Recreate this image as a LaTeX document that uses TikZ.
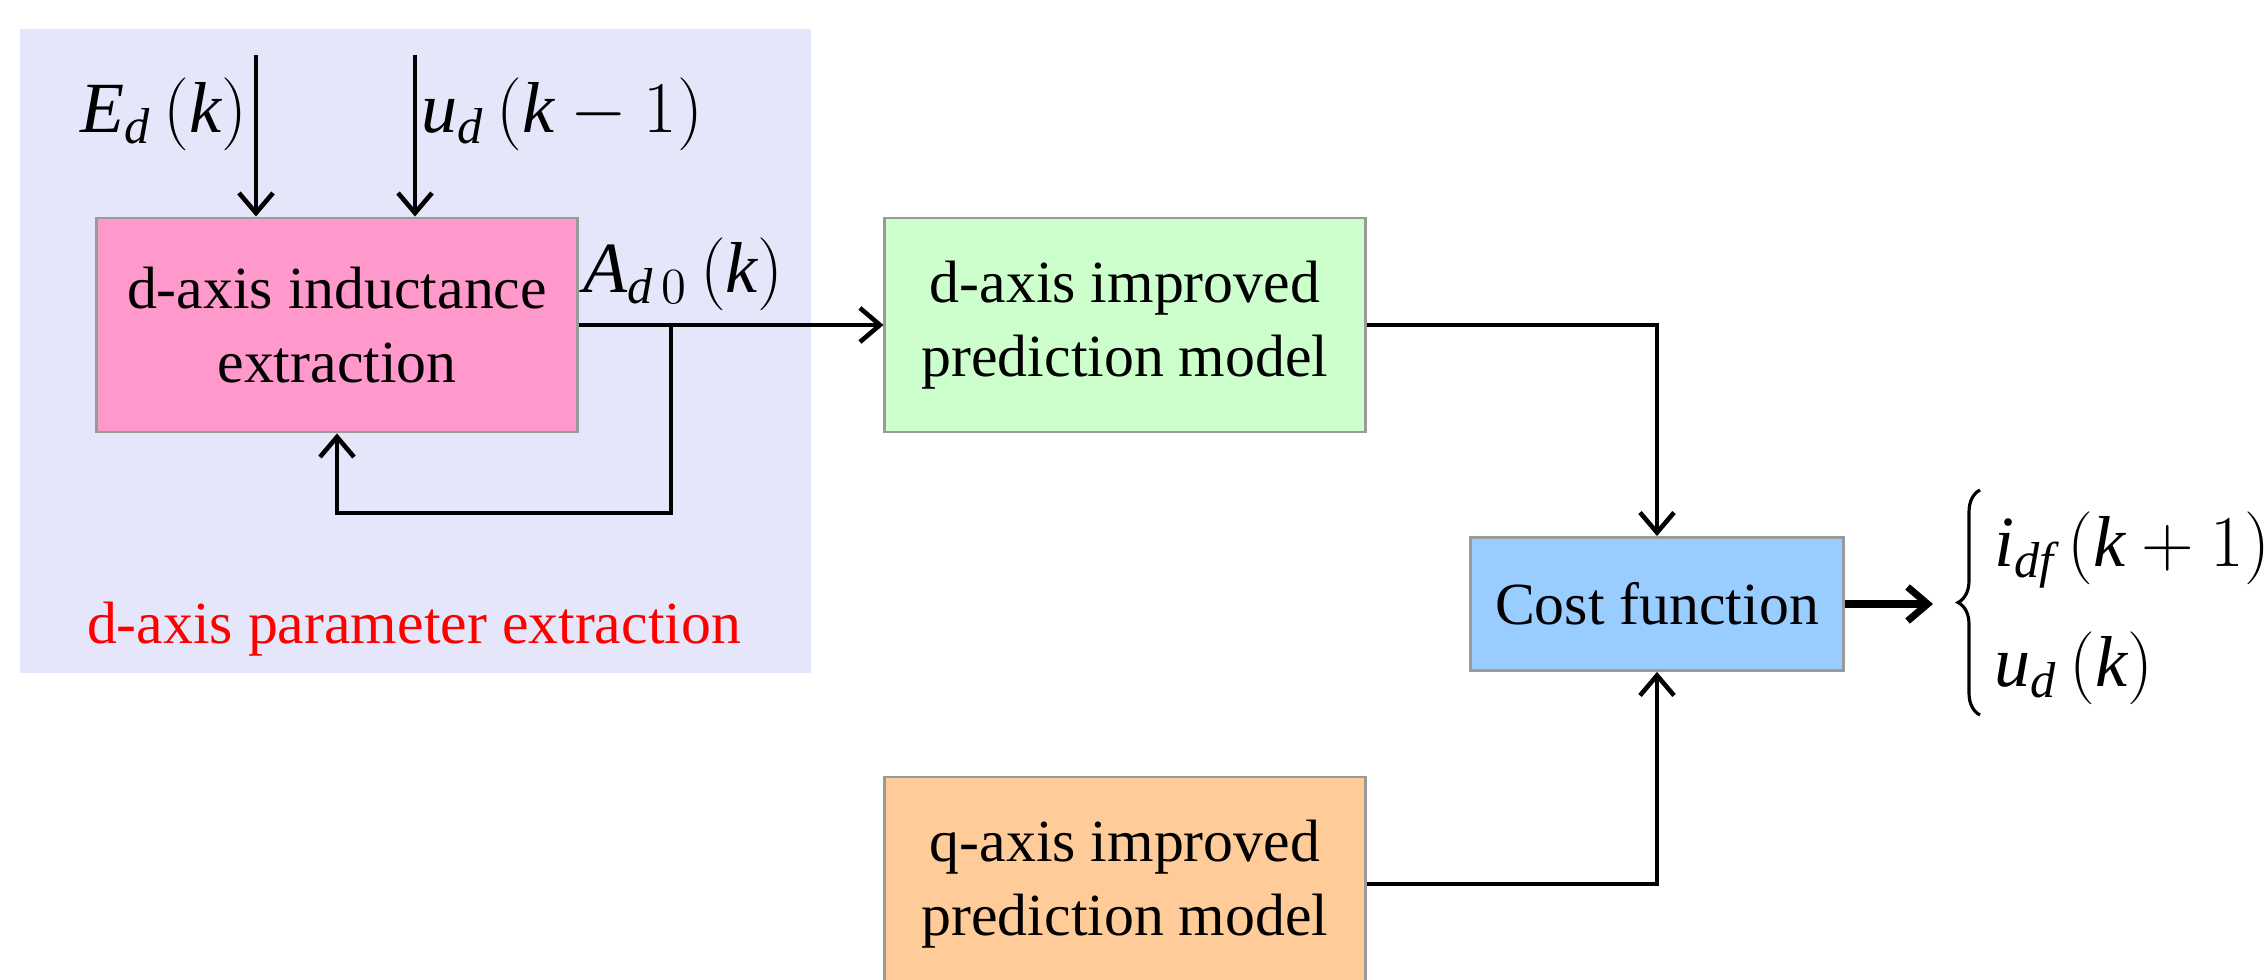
\documentclass[tikz,border=0pt]{standalone}
\usepackage{fontspec}
\setmainfont{Liberation Serif}
\usetikzlibrary{arrows.meta,decorations.pathreplacing}
\definecolor{bgc}{HTML}{E6E6FA}
\definecolor{pinkc}{HTML}{FF99CC}
\definecolor{greenc}{HTML}{CCFFCC}
\definecolor{bluec}{HTML}{99CCFF}
\definecolor{orangec}{HTML}{FFCC99}
\definecolor{edgec}{HTML}{9A9A9A}
\newcommand{\vi}[1]{\mathit{#1}}
\newcommand{\pl}{\,\bigl(}
\newcommand{\pr}{\bigr)}
\tikzset{
  block/.style={draw=edgec, line width=0.8pt, minimum width=4.8cm, minimum height=2.14cm,
    align=center, inner sep=0pt, font=\fontsize{17}{21}\selectfont},
  conn/.style={line width=1.3pt, -{Straight Barb[length=2mm,width=3.4mm,line width=1.3pt]}},
  mathlbl/.style={inner sep=0pt, font=\fontsize{20.5}{24}\selectfont}
}
\begin{document}
\begin{tikzpicture}[x=0.01cm,y=-0.01cm]
\useasboundingbox (0,0) rectangle (2267,980);
\clip (0,0) rectangle (2267,980);
\fill[white] (0,0) rectangle (2267,980);
% background region
\fill[bgc] (20,29) rectangle (811,673);
\node[text=red, inner sep=0pt, font=\fontsize{17}{21}\selectfont] (bglabel) at (414,629) {d-axis parameter extraction};

% blocks
\node[block, fill=pinkc] (pink) at (337,325) {d-axis inductance\\extraction};
\node[block, fill=greenc] (green) at (1125,325) {d-axis improved\\prediction model};
\node[block, fill=orangec] (orange) at (1125,884) {q-axis improved\\prediction model};
\node[block, fill=bluec, minimum width=3.73cm, minimum height=1.33cm] (cost) at (1657,604) {Cost function};

% input labels
\node[mathlbl, anchor=east] (edlbl) at (248,114) {$\vi{E}_{\vi{d}}\pl\vi{k}\pr$};
\node[mathlbl, anchor=west] (udlbl) at (421,114) {$\vi{u}_{\vi{d}}\pl\vi{k}-1\pr$};
\node[mathlbl, anchor=west] (adlbl) at (583,274) {$\vi{A}_{\vi{d}\,0}\pl\vi{k}\pr$};

% inputs
\coordinate (ein) at (256,55);
\coordinate (uin) at (415,55);
\draw[conn] (ein) -- (ein |- pink.north);
\draw[conn] (uin) -- (uin |- pink.north);

% A_d0 output and feedback
\coordinate (br) at (671,325);
\coordinate (fbl) at (671,513);
\draw[conn] (pink.east) -- (green.west);
\draw[conn] (br) -- (fbl) -| (pink.south);

% to cost function
\draw[conn] (green.east) -| (cost.north);
\draw[conn] (orange.east) -| (cost.south);

% output
\coordinate (outend) at (1933,604);
\draw[line width=2pt, -{Straight Barb[length=2mm,width=3.4mm,line width=2pt]}] (cost.east) -- (outend);
\coordinate (brbot) at (1980,715);
\coordinate (brtop) at (1980,490);
\draw[line width=0.9pt, decorate, decoration={brace, amplitude=0.22cm}] (brbot) -- (brtop);
\node[mathlbl, anchor=west] (idf) at (1994,550) {$\vi{i}_{\vi{df}}\pl\vi{k}+1\pr$};
\node[mathlbl, anchor=west] (udk) at (1994,668) {$\vi{u}_{\vi{d}}\pl\vi{k}\pr$};
\end{tikzpicture}
\end{document}
